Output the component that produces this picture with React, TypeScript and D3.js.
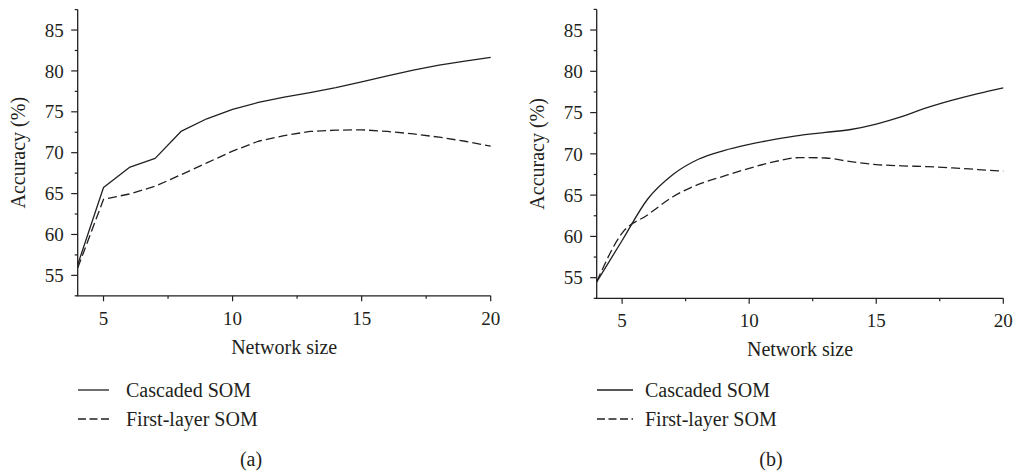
import React from "react";
import * as d3 from "d3";

const networkSizes = [4, 5, 6, 7, 8, 9, 10, 11, 12, 13, 14, 15, 16, 17, 18, 19, 20];
const cascadedA = [56.3, 65.75, 68.2, 69.3, 72.6, 74.15, 75.3, 76.15, 76.8, 77.35, 77.95, 78.65, 79.4, 80.1, 80.7, 81.2, 81.65];
const firstLayerA = [55.9, 64.3, 64.95, 65.9, 67.3, 68.75, 70.2, 71.4, 72.1, 72.6, 72.75, 72.8, 72.6, 72.3, 71.9, 71.4, 70.8];
const cascadedB = [54.5, 59.5, 64.5, 67.5, 69.35, 70.4, 71.15, 71.75, 72.25, 72.6, 72.95, 73.6, 74.5, 75.6, 76.5, 77.3, 78.0];
const firstLayerB = [54.5, 60.4, 62.6, 64.8, 66.3, 67.3, 68.25, 69.05, 69.55, 69.5, 69.05, 68.7, 68.55, 68.45, 68.3, 68.1, 67.9];

const xMajorTicks = [5, 10, 15, 20];
const xMinorTicks = [7.5, 12.5, 17.5];
const yMajorTicks = [55, 60, 65, 70, 75, 80, 85];
const yMinorTicks = [52.5, 57.5, 62.5, 67.5, 72.5, 77.5, 82.5, 87.5];
const seriesNames = ["Cascaded SOM", "First-layer SOM"];
const panelLabels = ["(a)", "(b)"];

const INK = "#231f20";
const FONT = "'Liberation Serif', 'Times New Roman', serif";

type PanelProps = {
  x0: number; x1: number; yTop: number; yBottom: number;
  solid: number[]; dashed: number[]; label: string; smooth: boolean;
  legendLineX0: number; legendLineX1: number; legendTextX: number; legendY: number;
  captionX: number;
};

function Panel(p: PanelProps) {
  const x = d3.scaleLinear().domain([4, 20]).range([p.x0, p.x1]);
  const y = d3.scaleLinear().domain([52.5, 87.5]).range([p.yBottom, p.yTop]);
  const line = d3
    .line<number>()
    .x((_, i) => x(networkSizes[i]))
    .y((d) => y(d))
    .curve(p.smooth ? d3.curveMonotoneX : d3.curveLinear);
  const midX = (p.x0 + p.x1) / 2;
  const midY = (p.yTop + p.yBottom) / 2;
  return (
    <g>
      <line x1={p.x0 - 1} x2={p.x1} y1={p.yBottom} y2={p.yBottom} stroke={INK} strokeWidth={1.3} />
      <line x1={p.x0} x2={p.x0} y1={p.yTop} y2={p.yBottom} stroke={INK} strokeWidth={1.3} />
      {yMajorTicks.map((t) => (
        <g key={"ym" + t}>
          <line x1={p.x0 - 6.5} x2={p.x0} y1={y(t)} y2={y(t)} stroke={INK} strokeWidth={1.2} />
          <text x={p.x0 - 14} y={y(t)} dy="0.35em" textAnchor="end" fontSize={19} fontFamily={FONT} fill={INK}>
            {t}
          </text>
        </g>
      ))}
      {yMinorTicks.map((t) => (
        <line key={"yn" + t} x1={p.x0 - 3} x2={p.x0} y1={y(t)} y2={y(t)} stroke={INK} strokeWidth={1.2} />
      ))}
      {xMajorTicks.map((t) => (
        <g key={"xm" + t}>
          <line x1={x(t)} x2={x(t)} y1={p.yBottom} y2={p.yBottom + 5.5} stroke={INK} strokeWidth={1.2} />
          <text x={x(t)} y={p.yBottom + 29} textAnchor="middle" fontSize={19} fontFamily={FONT} fill={INK}>
            {t}
          </text>
        </g>
      ))}
      {xMinorTicks.map((t) => (
        <line key={"xn" + t} x1={x(t)} x2={x(t)} y1={p.yBottom} y2={p.yBottom + 3} stroke={INK} strokeWidth={1.2} />
      ))}
      <text x={midX} y={p.yBottom + 58} textAnchor="middle" fontSize={20} fontFamily={FONT} fill={INK}>
        Network size
      </text>
      <text
        transform={`translate(${p.x0 - 53},${midY}) rotate(-90)`}
        textAnchor="middle"
        fontSize={20}
        fontFamily={FONT}
        fill={INK}
      >
        Accuracy (%)
      </text>
      <path d={line(p.solid) || ""} fill="none" stroke={INK} strokeWidth={1.3} strokeLinejoin="round" />
      <path d={line(p.dashed) || ""} fill="none" stroke={INK} strokeWidth={1.3} strokeDasharray="9,4" strokeLinejoin="round" />
      <line x1={p.legendLineX0} x2={p.legendLineX1} y1={p.legendY} y2={p.legendY} stroke={INK} strokeWidth={1.3} />
      <text x={p.legendTextX} y={p.legendY} dy="0.35em" fontSize={20} fontFamily={FONT} fill={INK}>
        {seriesNames[0]}
      </text>
      <line
        x1={p.legendLineX0}
        x2={p.legendLineX1}
        y1={p.legendY + 29}
        y2={p.legendY + 29}
        stroke={INK}
        strokeWidth={1.3}
        strokeDasharray="8,3.5"
      />
      <text x={p.legendTextX} y={p.legendY + 29} dy="0.35em" fontSize={20} fontFamily={FONT} fill={INK}>
        {seriesNames[1]}
      </text>
      <text x={p.captionX} y={466} textAnchor="middle" fontSize={20} fontFamily={FONT} fill={INK}>
        {p.label}
      </text>
    </g>
  );
}

export default function App() {
  return (
    <svg
      width={1018}
      height={473}
      viewBox="0 0 1018 473"
      style={{ position: "absolute", left: 0, top: 0, background: "#fff" }}
    >
      <rect width={1018} height={473} fill="#fff" />
      <Panel
        x0={77.7}
        x1={490.7}
        yTop={9.6}
        yBottom={295.8}
        solid={cascadedA}
        dashed={firstLayerA}
        label={panelLabels[0]}
        smooth={false}
        legendLineX0={78}
        legendLineX1={109}
        legendTextX={126}
        legendY={390}
        captionX={251}
      />
      <Panel
        x0={596.7}
        x1={1003.3}
        yTop={9.4}
        yBottom={298.3}
        solid={cascadedB}
        dashed={firstLayerB}
        label={panelLabels[1]}
        smooth={true}
        legendLineX0={597}
        legendLineX1={633}
        legendTextX={645}
        legendY={390}
        captionX={771}
      />
    </svg>
  );
}
